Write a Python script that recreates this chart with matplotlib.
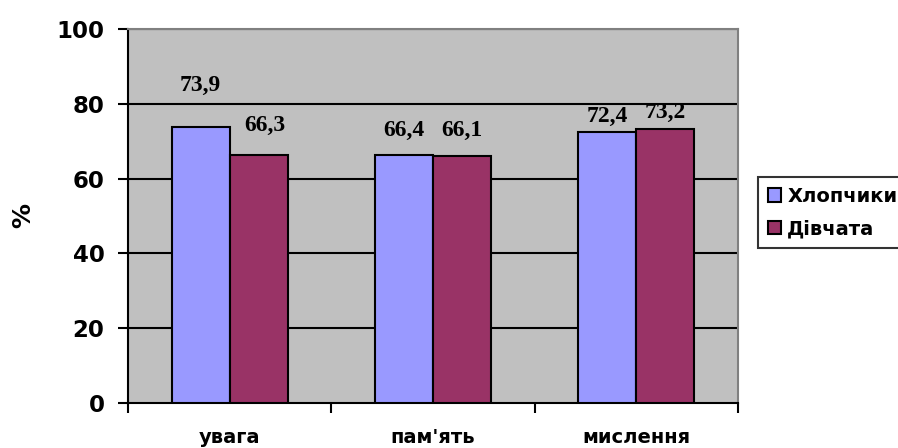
import matplotlib
matplotlib.use("Agg")
import matplotlib.pyplot as plt
import numpy as np

categories = ["увага", "пам'ять", "мислення"]
boys = [73.9, 66.4, 72.4]
girls = [66.3, 66.1, 73.2]
series_names = ["Хлопчики", "Дівчата"]
yticks = [0, 20, 40, 60, 80, 100]

# label offsets (style), in data units
boys_off = [11.0, 6.6, 4.3]
girls_off = [7.8, 6.9, 4.6]
girls_dx = [0.03, 0.0, 0.0]

SANS = "DejaVu Sans"

fig = plt.figure(figsize=(8.98, 4.48), dpi=100)
ax = fig.add_axes([128/898, 1-403/448, 610/898, 374/448])
ax.set_facecolor("#c0c0c0")

x = np.arange(len(categories))
w = 0.285
ax.bar(x - w/2, boys, w, color="#9999ff", edgecolor="black", linewidth=1.5, zorder=3, label=series_names[0])
ax.bar(x + w/2, girls, w, color="#993366", edgecolor="black", linewidth=1.5, zorder=3, label=series_names[1])

for xi, v, o in zip(x - w/2, boys, boys_off):
    ax.text(xi, v + o, f"{v:.1f}".replace(".", ","), ha="center", va="center",
            fontsize=17, fontweight="bold", family="Liberation Serif", zorder=4)
for xi, v, o, dx in zip(x + w/2, girls, girls_off, girls_dx):
    ax.text(xi + dx, v + o, f"{v:.1f}".replace(".", ","), ha="center", va="center",
            fontsize=17, fontweight="bold", family="Liberation Serif", zorder=4)

ax.set_xlim(-0.5, 2.5)
ax.set_ylim(0, 100)
ax.set_yticks(yticks)
ax.set_yticklabels([str(t) for t in yticks], fontsize=16.5, fontweight="bold", family=SANS)
for t in yticks[1:]:
    ax.axhline(t, color="black", linewidth=1.5, zorder=2)

ax.set_xticks([-0.5, 0.5, 1.5, 2.5])
ax.set_xticklabels([])
ax.set_xticks(x, minor=True)
ax.set_xticklabels(categories, minor=True, fontsize=14, fontweight="bold", family=SANS)
ax.tick_params(axis="x", which="minor", length=0, pad=18)
ax.tick_params(axis="x", which="major", length=7, width=1.5, direction="out")
ax.tick_params(axis="y", length=7, width=1.5, direction="out", pad=10)

for s in ["left", "bottom"]:
    ax.spines[s].set_color("black")
    ax.spines[s].set_linewidth(1.5)
for s in ["top", "right"]:
    ax.spines[s].set_color("#808080")
    ax.spines[s].set_linewidth(1.5)

fig.text(23 / 898, 1 - 215 / 448, "%", rotation=90, ha="center", va="center",
         fontsize=18, fontweight="bold", family=SANS)

leg = ax.legend(loc="upper left", bbox_to_anchor=((758 - 128) / 610, (403 - 177) / 374),
                prop={"family": SANS, "weight": "bold", "size": 14},
                frameon=True, fancybox=False, edgecolor="black",
                handlelength=0.7, handleheight=0.7, handletextpad=0.3,
                borderpad=0.5, labelspacing=0.7, borderaxespad=0)
leg.get_frame().set_linewidth(1.5)

fig.savefig("out.png", dpi=100)
